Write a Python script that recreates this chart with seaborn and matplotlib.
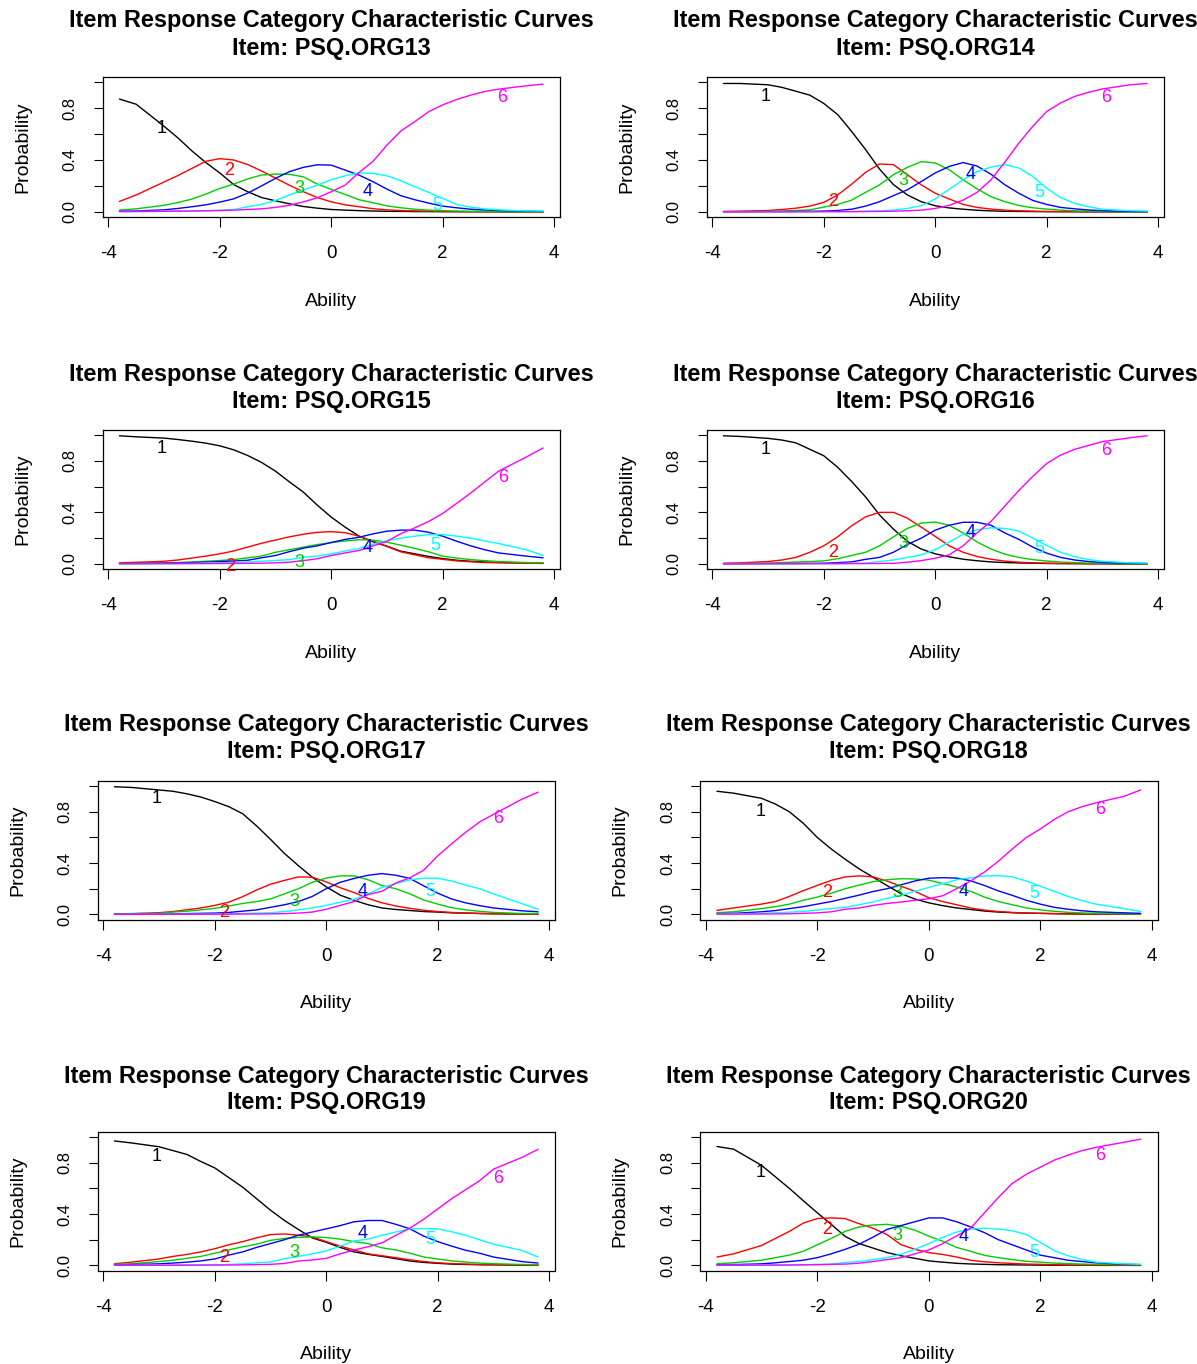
import numpy as np
import pandas as pd
import matplotlib
matplotlib.use("Agg")
import matplotlib.pyplot as plt
import seaborn as sns

# ---------------- data ----------------
ABILITY = [-3.8, -3.5, -3.0, -2.75, -2.5, -2.25, -2.0, -1.75, -1.5, -1.25,
           -1.0, -0.75, -0.5, -0.25, 0.0, 0.25, 0.5, 0.75, 1.0, 1.25,
           1.5, 1.75, 2.0, 2.25, 2.5, 2.75, 3.0, 3.5, 3.8]
CATEGORIES = ["1", "2", "3", "4", "5", "6"]
ITEMS = ["PSQ.ORG13", "PSQ.ORG14", "PSQ.ORG15", "PSQ.ORG16",
         "PSQ.ORG17", "PSQ.ORG18", "PSQ.ORG19", "PSQ.ORG20"]
X_TICKS = [-4, -2, 0, 2, 4]
Y_TICKS = [0.0, 0.2, 0.4, 0.6, 0.8, 1.0]
Y_TICK_LABELS = ["0.0", "", "0.4", "", "0.8", ""]

ORG13 = [
    [0.87, 0.83, 0.66, 0.57, 0.47, 0.38, 0.30, 0.21, 0.155, 0.11, 0.085, 0.062, 0.041, 0.028, 0.018,
     0.013, 0.009, 0.006, 0.004, 0.003, 0.002, 0.0015, 0.001, 0.001, 0.001, 0.0005, 0.0005, 0.0, 0.0],
    [0.08, 0.13, 0.23, 0.28, 0.335, 0.39, 0.41, 0.40, 0.365, 0.315, 0.26, 0.205, 0.155, 0.11, 0.077,
     0.054, 0.039, 0.024, 0.015, 0.01, 0.007, 0.005, 0.003, 0.002, 0.001, 0.001, 0.001, 0.0, 0.0],
    [0.013, 0.023, 0.05, 0.072, 0.098, 0.137, 0.18, 0.214, 0.253, 0.284, 0.291, 0.289, 0.27, 0.214, 0.173,
     0.134, 0.093, 0.07, 0.046, 0.031, 0.02, 0.013, 0.009, 0.006, 0.004, 0.003, 0.002, 0.001, 0.001],
    [0.005, 0.007, 0.015, 0.026, 0.039, 0.054, 0.075, 0.10, 0.144, 0.20, 0.258, 0.31, 0.343, 0.363, 0.36,
     0.322, 0.283, 0.232, 0.175, 0.124, 0.093, 0.067, 0.044, 0.031, 0.02, 0.014, 0.01, 0.005, 0.003],
    [0.002, 0.003, 0.004, 0.005, 0.006, 0.008, 0.012, 0.018, 0.039, 0.057, 0.088, 0.13, 0.168, 0.206, 0.247,
     0.278, 0.30, 0.296, 0.278, 0.24, 0.193, 0.15, 0.103, 0.057, 0.036, 0.023, 0.015, 0.007, 0.005],
    [0.002, 0.002, 0.004, 0.005, 0.006, 0.008, 0.01, 0.013, 0.018, 0.023, 0.034, 0.05, 0.077, 0.108, 0.155,
     0.206, 0.304, 0.39, 0.515, 0.624, 0.696, 0.773, 0.825, 0.866, 0.90, 0.928, 0.946, 0.972, 0.985],
]
ORG14 = [
    [0.99, 0.99, 0.98, 0.96, 0.93, 0.90, 0.836, 0.75, 0.62, 0.48, 0.33, 0.21, 0.13, 0.078, 0.047,
     0.03, 0.02, 0.012, 0.007, 0.004, 0.003, 0.002, 0.001, 0.001, 0.001, 0.0, 0.0, 0.0, 0.0],
    [0.003, 0.005, 0.01, 0.018, 0.028, 0.044, 0.073, 0.13, 0.213, 0.304, 0.369, 0.364, 0.286, 0.208, 0.143,
     0.099, 0.057, 0.034, 0.021, 0.013, 0.008, 0.005, 0.003, 0.002, 0.001, 0.001, 0.001, 0.0, 0.0],
    [0.001, 0.002, 0.004, 0.006, 0.01, 0.015, 0.036, 0.057, 0.09, 0.15, 0.208, 0.286, 0.343, 0.387, 0.377,
     0.325, 0.247, 0.177, 0.117, 0.078, 0.049, 0.031, 0.021, 0.013, 0.008, 0.005, 0.003, 0.001, 0.001],
    [0.001, 0.001, 0.002, 0.002, 0.003, 0.004, 0.006, 0.01, 0.02, 0.044, 0.078, 0.125, 0.17, 0.234, 0.30,
     0.35, 0.38, 0.353, 0.29, 0.208, 0.143, 0.088, 0.057, 0.034, 0.023, 0.014, 0.009, 0.004, 0.002],
    [0.001, 0.001, 0.001, 0.001, 0.001, 0.001, 0.002, 0.002, 0.003, 0.005, 0.008, 0.013, 0.026, 0.047, 0.10,
     0.174, 0.247, 0.31, 0.345, 0.364, 0.338, 0.273, 0.182, 0.109, 0.065, 0.039, 0.02, 0.008, 0.005],
    [0.0, 0.0, 0.0, 0.0, 0.0, 0.0, 0.001, 0.001, 0.001, 0.002, 0.003, 0.005, 0.008, 0.013, 0.026,
     0.05, 0.09, 0.15, 0.247, 0.384, 0.53, 0.66, 0.774, 0.84, 0.89, 0.922, 0.948, 0.98, 0.99],
]
ORG15 = [
    [0.995, 0.987, 0.977, 0.966, 0.953, 0.938, 0.917, 0.886, 0.842, 0.788, 0.72, 0.637, 0.557, 0.456, 0.363,
     0.285, 0.215, 0.171, 0.137, 0.098, 0.078, 0.057, 0.041, 0.028, 0.02, 0.015, 0.011, 0.006, 0.004],
    [0.008, 0.012, 0.02, 0.03, 0.045, 0.06, 0.078, 0.10, 0.13, 0.16, 0.185, 0.21, 0.23, 0.245, 0.25,
     0.242, 0.215, 0.176, 0.135, 0.093, 0.07, 0.047, 0.035, 0.023, 0.016, 0.011, 0.008, 0.005, 0.003],
    [0.004, 0.005, 0.008, 0.01, 0.015, 0.02, 0.026, 0.033, 0.047, 0.06, 0.09, 0.11, 0.13, 0.15, 0.165,
     0.178, 0.188, 0.184, 0.168, 0.145, 0.12, 0.093, 0.06, 0.045, 0.033, 0.025, 0.018, 0.01, 0.008],
    [0.002, 0.003, 0.005, 0.007, 0.01, 0.013, 0.018, 0.022, 0.028, 0.047, 0.065, 0.095, 0.122, 0.14, 0.166,
     0.19, 0.207, 0.233, 0.254, 0.262, 0.262, 0.245, 0.215, 0.176, 0.14, 0.11, 0.085, 0.06, 0.047],
    [0.001, 0.001, 0.002, 0.003, 0.004, 0.006, 0.008, 0.011, 0.015, 0.02, 0.026, 0.033, 0.05, 0.06, 0.078,
     0.10, 0.12, 0.153, 0.18, 0.20, 0.215, 0.228, 0.228, 0.215, 0.20, 0.178, 0.158, 0.11, 0.065],
    [0.001, 0.001, 0.001, 0.001, 0.002, 0.002, 0.003, 0.003, 0.004, 0.005, 0.008, 0.013, 0.025, 0.04, 0.065,
     0.085, 0.104, 0.14, 0.175, 0.235, 0.28, 0.33, 0.392, 0.47, 0.55, 0.635, 0.72, 0.83, 0.90],
]
ORG16 = [
    [0.995, 0.99, 0.975, 0.962, 0.94, 0.89, 0.84, 0.75, 0.64, 0.52, 0.38, 0.27, 0.175, 0.115, 0.078,
     0.055, 0.036, 0.024, 0.015, 0.01, 0.007, 0.005, 0.003, 0.002, 0.002, 0.001, 0.001, 0.0, 0.0],
    [0.005, 0.008, 0.018, 0.03, 0.05, 0.09, 0.14, 0.21, 0.296, 0.365, 0.40, 0.40, 0.355, 0.285, 0.213,
     0.14, 0.09, 0.057, 0.036, 0.021, 0.013, 0.008, 0.005, 0.003, 0.002, 0.001, 0.001, 0.0, 0.0],
    [0.002, 0.003, 0.006, 0.01, 0.014, 0.018, 0.023, 0.04, 0.065, 0.09, 0.14, 0.21, 0.275, 0.317, 0.325,
     0.30, 0.24, 0.17, 0.115, 0.075, 0.05, 0.033, 0.022, 0.014, 0.01, 0.006, 0.004, 0.002, 0.002],
    [0.001, 0.001, 0.002, 0.002, 0.003, 0.004, 0.005, 0.01, 0.015, 0.035, 0.05, 0.09, 0.15, 0.20, 0.262,
     0.30, 0.323, 0.323, 0.30, 0.24, 0.19, 0.13, 0.083, 0.05, 0.03, 0.018, 0.01, 0.005, 0.003],
    [0.001, 0.001, 0.001, 0.001, 0.001, 0.002, 0.002, 0.003, 0.004, 0.006, 0.018, 0.03, 0.05, 0.07, 0.11,
     0.17, 0.23, 0.265, 0.28, 0.275, 0.255, 0.20, 0.143, 0.09, 0.056, 0.033, 0.02, 0.008, 0.005],
    [0.0, 0.0, 0.001, 0.001, 0.001, 0.001, 0.001, 0.001, 0.002, 0.002, 0.003, 0.004, 0.013, 0.025, 0.044,
     0.07, 0.14, 0.24, 0.33, 0.45, 0.57, 0.68, 0.78, 0.845, 0.89, 0.92, 0.95, 0.98, 0.995],
]
ORG17 = [
    [0.995, 0.99, 0.97, 0.96, 0.94, 0.915, 0.88, 0.84, 0.785, 0.69, 0.585, 0.475, 0.38, 0.29, 0.215,
     0.15, 0.11, 0.075, 0.05, 0.038, 0.03, 0.022, 0.018, 0.012, 0.01, 0.007, 0.005, 0.003, 0.002],
    [0.004, 0.006, 0.013, 0.022, 0.036, 0.05, 0.07, 0.095, 0.138, 0.19, 0.235, 0.265, 0.292, 0.29, 0.253,
     0.208, 0.17, 0.125, 0.09, 0.065, 0.047, 0.032, 0.022, 0.015, 0.01, 0.007, 0.005, 0.002, 0.001],
    [0.002, 0.004, 0.008, 0.018, 0.025, 0.035, 0.047, 0.065, 0.085, 0.10, 0.12, 0.16, 0.20, 0.25, 0.283,
     0.30, 0.30, 0.27, 0.225, 0.20, 0.16, 0.112, 0.08, 0.052, 0.035, 0.024, 0.015, 0.007, 0.005],
    [0.001, 0.001, 0.002, 0.004, 0.006, 0.008, 0.01, 0.015, 0.025, 0.035, 0.055, 0.075, 0.10, 0.14, 0.20,
     0.25, 0.28, 0.305, 0.318, 0.305, 0.28, 0.222, 0.165, 0.12, 0.09, 0.068, 0.05, 0.028, 0.02],
    [0.0, 0.001, 0.001, 0.001, 0.002, 0.002, 0.003, 0.004, 0.006, 0.01, 0.013, 0.022, 0.034, 0.05, 0.07,
     0.095, 0.118, 0.16, 0.21, 0.24, 0.27, 0.282, 0.282, 0.26, 0.228, 0.20, 0.16, 0.085, 0.04],
    [0.0, 0.0, 0.001, 0.001, 0.001, 0.001, 0.002, 0.002, 0.003, 0.003, 0.004, 0.006, 0.01, 0.018, 0.04,
     0.07, 0.10, 0.155, 0.18, 0.245, 0.285, 0.345, 0.457, 0.55, 0.64, 0.72, 0.78, 0.896, 0.953],
]
ORG18 = [
    [0.96, 0.945, 0.905, 0.86, 0.80, 0.71, 0.60, 0.51, 0.43, 0.355, 0.29, 0.225, 0.162, 0.12, 0.09,
     0.068, 0.05, 0.038, 0.026, 0.018, 0.013, 0.01, 0.008, 0.006, 0.004, 0.003, 0.002, 0.001, 0.001],
    [0.031, 0.05, 0.08, 0.10, 0.14, 0.185, 0.226, 0.265, 0.292, 0.30, 0.292, 0.26, 0.22, 0.18, 0.13,
     0.10, 0.075, 0.05, 0.033, 0.022, 0.015, 0.01, 0.008, 0.005, 0.004, 0.003, 0.002, 0.001, 0.001],
    [0.013, 0.02, 0.045, 0.06, 0.08, 0.11, 0.135, 0.165, 0.20, 0.228, 0.255, 0.27, 0.278, 0.276, 0.267,
     0.24, 0.214, 0.18, 0.135, 0.10, 0.075, 0.05, 0.035, 0.024, 0.016, 0.011, 0.008, 0.004, 0.003],
    [0.005, 0.008, 0.02, 0.03, 0.045, 0.06, 0.08, 0.10, 0.125, 0.15, 0.178, 0.20, 0.23, 0.26, 0.282,
     0.286, 0.283, 0.262, 0.225, 0.183, 0.148, 0.11, 0.08, 0.055, 0.04, 0.028, 0.02, 0.012, 0.008],
    [0.003, 0.004, 0.008, 0.012, 0.017, 0.023, 0.033, 0.045, 0.055, 0.075, 0.097, 0.125, 0.148, 0.18, 0.21,
     0.24, 0.27, 0.285, 0.30, 0.302, 0.293, 0.26, 0.22, 0.18, 0.14, 0.108, 0.08, 0.045, 0.023],
    [0.002, 0.002, 0.003, 0.004, 0.005, 0.008, 0.012, 0.02, 0.04, 0.05, 0.07, 0.085, 0.096, 0.11, 0.122,
     0.145, 0.20, 0.26, 0.33, 0.415, 0.51, 0.60, 0.665, 0.74, 0.80, 0.84, 0.87, 0.92, 0.97],
]
ORG19 = [
    [0.97, 0.955, 0.925, 0.895, 0.865, 0.81, 0.76, 0.685, 0.61, 0.52, 0.43, 0.35, 0.28, 0.214, 0.18,
     0.14, 0.105, 0.086, 0.07, 0.052, 0.034, 0.023, 0.016, 0.01, 0.007, 0.005, 0.004, 0.002, 0.002],
    [0.013, 0.025, 0.05, 0.07, 0.085, 0.105, 0.13, 0.16, 0.185, 0.215, 0.24, 0.245, 0.235, 0.222, 0.185,
     0.15, 0.12, 0.09, 0.075, 0.06, 0.043, 0.03, 0.02, 0.014, 0.01, 0.007, 0.005, 0.003, 0.002],
    [0.008, 0.012, 0.03, 0.04, 0.055, 0.07, 0.095, 0.12, 0.145, 0.165, 0.195, 0.21, 0.218, 0.222, 0.217,
     0.205, 0.185, 0.17, 0.137, 0.12, 0.095, 0.065, 0.05, 0.035, 0.026, 0.018, 0.013, 0.007, 0.005],
    [0.005, 0.006, 0.012, 0.018, 0.025, 0.035, 0.05, 0.08, 0.105, 0.14, 0.17, 0.20, 0.235, 0.26, 0.285,
     0.31, 0.34, 0.35, 0.35, 0.32, 0.285, 0.228, 0.185, 0.15, 0.118, 0.095, 0.065, 0.03, 0.018],
    [0.001, 0.001, 0.002, 0.002, 0.003, 0.004, 0.005, 0.007, 0.012, 0.02, 0.026, 0.052, 0.07, 0.09, 0.112,
     0.15, 0.19, 0.205, 0.235, 0.26, 0.285, 0.287, 0.285, 0.262, 0.235, 0.20, 0.165, 0.118, 0.065],
    [0.001, 0.001, 0.001, 0.001, 0.002, 0.002, 0.003, 0.003, 0.004, 0.006, 0.008, 0.015, 0.034, 0.042, 0.055,
     0.09, 0.12, 0.145, 0.175, 0.235, 0.29, 0.36, 0.44, 0.52, 0.59, 0.66, 0.75, 0.84, 0.905],
]
ORG20 = [
    [0.927, 0.906, 0.78, 0.69, 0.60, 0.504, 0.41, 0.32, 0.226, 0.17, 0.135, 0.10, 0.075, 0.055, 0.035,
     0.025, 0.016, 0.011, 0.008, 0.005, 0.004, 0.003, 0.002, 0.001, 0.001, 0.001, 0.0, 0.0, 0.0],
    [0.065, 0.09, 0.155, 0.21, 0.265, 0.33, 0.365, 0.37, 0.365, 0.325, 0.29, 0.24, 0.162, 0.125, 0.10,
     0.085, 0.065, 0.04, 0.028, 0.02, 0.015, 0.01, 0.008, 0.005, 0.003, 0.002, 0.002, 0.001, 0.001],
    [0.013, 0.02, 0.04, 0.06, 0.08, 0.11, 0.16, 0.21, 0.265, 0.30, 0.315, 0.32, 0.305, 0.275, 0.228,
     0.188, 0.14, 0.11, 0.078, 0.06, 0.045, 0.032, 0.025, 0.018, 0.014, 0.01, 0.008, 0.006, 0.005],
    [0.005, 0.006, 0.012, 0.02, 0.03, 0.04, 0.06, 0.09, 0.125, 0.165, 0.22, 0.28, 0.31, 0.34, 0.37,
     0.37, 0.34, 0.30, 0.255, 0.20, 0.16, 0.12, 0.08, 0.06, 0.04, 0.03, 0.02, 0.009, 0.006],
    [0.001, 0.001, 0.002, 0.003, 0.004, 0.005, 0.008, 0.01, 0.022, 0.03, 0.045, 0.06, 0.086, 0.125, 0.17,
     0.218, 0.26, 0.283, 0.29, 0.283, 0.27, 0.24, 0.18, 0.115, 0.075, 0.045, 0.025, 0.012, 0.008],
    [0.001, 0.001, 0.002, 0.002, 0.003, 0.004, 0.005, 0.008, 0.01, 0.017, 0.03, 0.045, 0.06, 0.09, 0.12,
     0.17, 0.23, 0.29, 0.41, 0.53, 0.64, 0.71, 0.765, 0.82, 0.86, 0.895, 0.92, 0.96, 0.984],
]
ITEM_PROBS = [ORG13, ORG14, ORG15, ORG16, ORG17, ORG18, ORG19, ORG20]

# ---------------- layout / style ----------------
CAT_COLORS = ["#000000", "#FF0000", "#00CD00", "#0000FF", "#00FFFF", "#FF00FF"]

# curve-label anchor points (ability, probability) per panel
LABEL_POS = [
    [(-3.04, 0.64), (-1.84, 0.32), (-0.57, 0.18), (0.65, 0.155), (1.9, 0.05), (3.07, 0.88)],
    [(-3.05, 0.89), (-1.84, 0.08), (-0.58, 0.24), (0.63, 0.285), (1.87, 0.15), (3.07, 0.88)],
    [(-3.04, 0.90), (-1.81, -0.02), (-0.57, 0.01), (0.65, 0.13), (1.87, 0.14), (3.08, 0.67)],
    [(-3.05, 0.89), (-1.84, 0.09), (-0.58, 0.16), (0.63, 0.24), (1.87, 0.12), (3.07, 0.88)],
    [(-3.04, 0.90), (-1.84, 0.013), (-0.57, 0.097), (0.65, 0.18), (1.87, 0.18), (3.08, 0.75)],
    [(-3.02, 0.805), (-1.83, 0.17), (-0.57, 0.17), (0.63, 0.18), (1.89, 0.16), (3.08, 0.82)],
    [(-3.04, 0.85), (-1.84, 0.06), (-0.58, 0.10), (0.65, 0.25), (1.87, 0.20), (3.08, 0.68)],
    [(-3.02, 0.725), (-1.83, 0.28), (-0.57, 0.23), (0.63, 0.226), (1.89, 0.10), (3.08, 0.86)],
]

W, H = 1197, 1364
# (left, top, right, bottom) in pixels
PANEL_BOXES = [
    (102.5, 77, 560, 217), (706.5, 77, 1164, 217),
    (102.5, 430, 560, 569), (706.5, 430, 1164, 569),
    (97.5, 781, 555, 919.5), (700, 781, 1157.5, 919.5),
    (97.5, 1132, 555, 1270.5), (700, 1132, 1157.5, 1270.5),
]

sns.set_theme(style="white")
plt.rcParams["font.family"] = ["Liberation Sans", "DejaVu Sans"]
plt.rcParams["text.color"] = "black"
plt.rcParams["axes.labelcolor"] = "black"
plt.rcParams["xtick.color"] = "black"
plt.rcParams["ytick.color"] = "black"

fig = plt.figure(figsize=(W / 100, H / 100), dpi=100)
fig.patch.set_facecolor("white")

for i, item in enumerate(ITEMS):
    l, t, r, b = PANEL_BOXES[i]
    ax = fig.add_axes([l / W, 1 - b / H, (r - l) / W, (b - t) / H])
    probs = ITEM_PROBS[i]
    df = pd.DataFrame({
        "Ability": ABILITY * len(CATEGORIES),
        "Probability": [p for row in probs for p in row],
        "Category": np.repeat(CATEGORIES, len(ABILITY)),
    })
    sns.lineplot(data=df, x="Ability", y="Probability", hue="Category",
                 hue_order=CATEGORIES, palette=CAT_COLORS, estimator=None,
                 sort=False, legend=False, linewidth=1.0, ax=ax)

    for k, (lx, ly) in enumerate(LABEL_POS[i]):
        ax.text(lx, ly, CATEGORIES[k], color=CAT_COLORS[k], fontsize=13,
                ha="center", va="center")

    ax.set_xlim(-4.104, 4.104)
    ax.set_ylim(-0.04, 1.04)
    ax.set_xticks(X_TICKS)
    ax.set_xticklabels([str(v) for v in X_TICKS])
    ax.set_yticks(Y_TICKS)
    ax.set_yticklabels(Y_TICK_LABELS, rotation=90, va="center")
    ax.tick_params(axis="x", direction="out", length=7.5, width=0.8,
                   pad=13, labelsize=13.5, bottom=True)
    ax.tick_params(axis="y", direction="out", length=6.5, width=0.8,
                   pad=11.5, labelsize=12, left=True)
    for sp in ax.spines.values():
        sp.set_visible(True)
        sp.set_color("black")
        sp.set_linewidth(0.9)
    ax.set_facecolor("white")

    ax.set_xlabel("Ability", fontsize=14)
    ax.set_ylabel("Probability", fontsize=14)
    h_px = b - t
    w_px = r - l
    ax.xaxis.set_label_coords(0.5, -84 / h_px)
    ax.xaxis.label.set_va("center")
    ax.yaxis.set_label_coords(-80 / w_px, 0.5)
    ax.yaxis.label.set_va("center")
    ax.yaxis.label.set_ha("center")

    ax.annotate("Item Response Category Characteristic Curves",
                xy=(0.5, 1.0), xycoords="axes fraction",
                xytext=(0, 56), textcoords="offset pixels",
                ha="center", va="center", fontsize=16.9, fontweight="bold")
    ax.annotate("Item: " + item,
                xy=(0.5, 1.0), xycoords="axes fraction",
                xytext=(0, 29), textcoords="offset pixels",
                ha="center", va="center", fontsize=16.9, fontweight="bold")

fig.savefig("out.png", dpi=100, facecolor="white")
